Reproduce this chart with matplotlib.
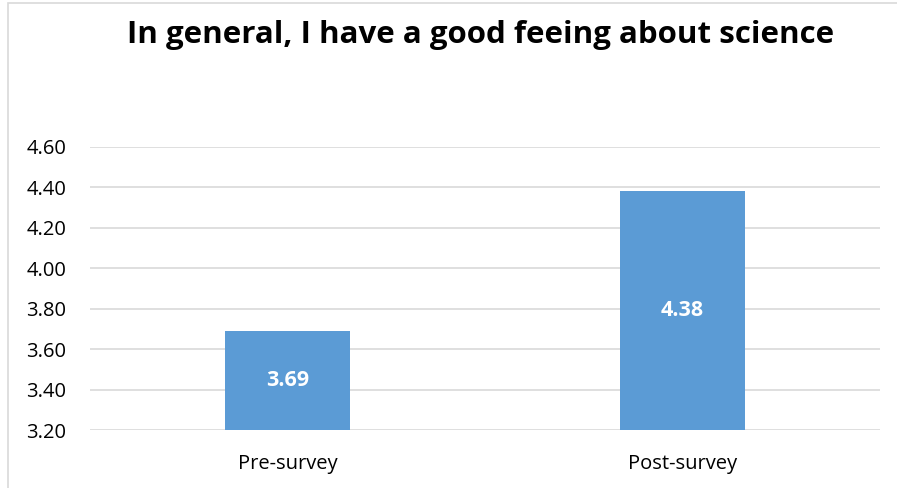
import matplotlib
matplotlib.use("Agg")
import matplotlib.pyplot as plt
from matplotlib.patches import Rectangle

categories = ["Pre-survey", "Post-survey"]
values = [3.69, 4.38]
yticks = [3.20, 3.40, 3.60, 3.80, 4.00, 4.20, 4.40, 4.60]
title = "In general, I have a good feeing about science"

plt.rcParams['font.family'] = ['Open Sans', 'DejaVu Sans']

fig = plt.figure(figsize=(8.97, 4.88), dpi=100)
fig.patches.append(Rectangle((8/897, -0.01), 1.02, 1 - 3/488 + 0.01, transform=fig.transFigure,
                             fill=False, edgecolor="#D9D9D9", linewidth=1.2))
ax = fig.add_axes([90/897, 1 - 430/488, 790/897, (430 - 147)/488])

ybase = yticks[0]
x = list(range(len(categories)))
bars = ax.bar(x, [v - ybase for v in values], bottom=ybase, width=0.314, color="#5B9BD5", zorder=3)
for xi, v in zip(x, values):
    ax.text(xi, (v + ybase) / 2, f"{v:.2f}", ha="center", va="center", color="white",
            fontsize=15.5, fontweight="bold", zorder=4)

ax.set_xlim(-0.5, 1.5)
ax.set_ylim(yticks[0], yticks[-1])
ax.set_yticks(yticks)
ax.set_yticklabels([f"{t:.2f}" for t in yticks], fontsize=14.5)
ax.set_xticks(x)
ax.set_xticklabels(categories, fontsize=14.5)
ax.grid(axis="y", color="#D9D9D9", linewidth=1.2, zorder=0)
for s in ax.spines.values():
    s.set_visible(False)
ax.tick_params(axis="both", length=0)
ax.tick_params(axis="y", pad=17)
ax.tick_params(axis="x", pad=17)

fig.text(481/897, 1 - 35/488, title, ha="center", va="center", fontsize=22.5, fontweight="bold")

fig.savefig("out.png", dpi=100)
